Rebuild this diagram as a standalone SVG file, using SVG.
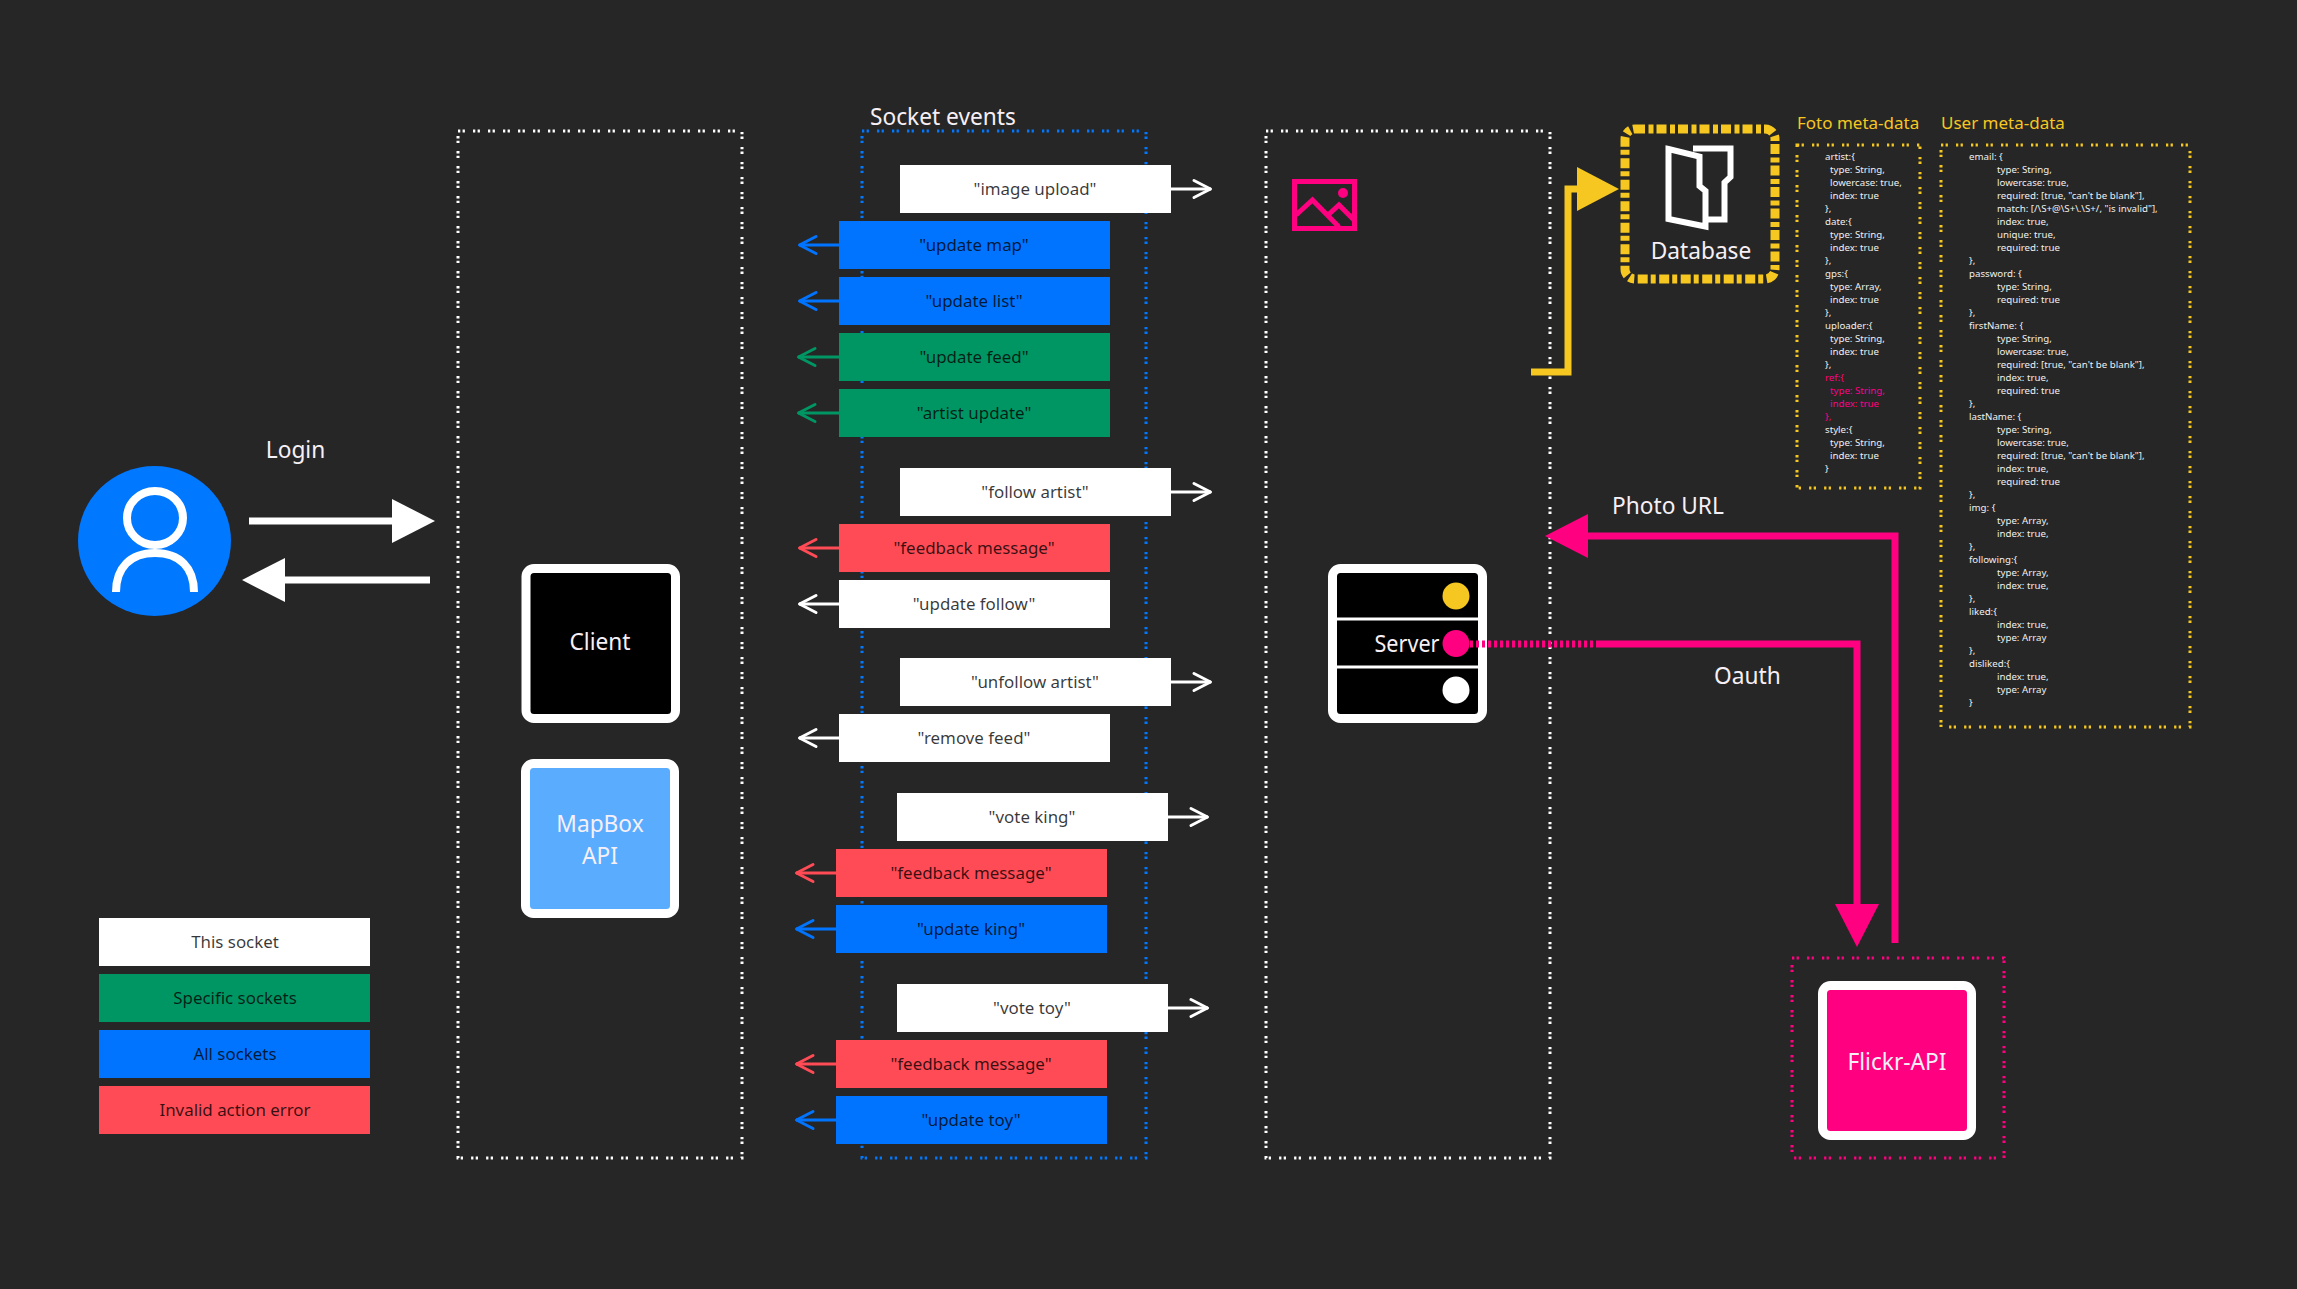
<svg xmlns="http://www.w3.org/2000/svg" width="2297" height="1289" viewBox="0 0 2297 1289">
<defs>
<style>
text{font-family:"Noto Sans","Open Sans","Liberation Sans",sans-serif}
.dots{fill:none;stroke-width:3;stroke-dasharray:2.3 2.3 2.3 8.1}
.w{fill:#fff}.b{fill:#0074ff}.g{fill:#009664}.r{fill:#ff4b55}
.lbl{font-size:16.9px;text-anchor:middle;fill:#000;fill-opacity:.78}
.t{font-size:22.7px;fill:#f6f0f6}
.m{text-anchor:middle}
.h{font-size:17px;fill:#f6c720}
.code{font-size:9.7px;fill:#f0f0f0}
.ref{fill:#ff0080}
.card{stroke:#fff;stroke-width:9}
.chev{fill:none;stroke-width:3;stroke-linecap:round;stroke-linejoin:round}
.sm{fill:none;stroke-width:3}
.big{fill:none;stroke-width:7}
</style>
<marker id="cw" markerUnits="userSpaceOnUse" markerWidth="24" markerHeight="24" refX="20" refY="12" orient="auto"><path class="chev" stroke="#fff" d="M3 3.500L19.500 12L3 20.500"/></marker>
<marker id="cb" markerUnits="userSpaceOnUse" markerWidth="24" markerHeight="24" refX="20" refY="12" orient="auto"><path class="chev" stroke="#0074ff" d="M3 3.500L19.500 12L3 20.500"/></marker>
<marker id="cg" markerUnits="userSpaceOnUse" markerWidth="24" markerHeight="24" refX="20" refY="12" orient="auto"><path class="chev" stroke="#009664" d="M3 3.500L19.500 12L3 20.500"/></marker>
<marker id="cr" markerUnits="userSpaceOnUse" markerWidth="24" markerHeight="24" refX="20" refY="12" orient="auto"><path class="chev" stroke="#ff4b55" d="M3 3.500L19.500 12L3 20.500"/></marker>
<marker id="tw" markerUnits="userSpaceOnUse" markerWidth="44" markerHeight="46" refX="0" refY="23" orient="auto"><path fill="#fff" d="M0 1L43 23L0 45Z"/></marker>
<marker id="ty" markerUnits="userSpaceOnUse" markerWidth="44" markerHeight="46" refX="0" refY="23" orient="auto"><path fill="#f6c720" d="M0 1L42 23L0 45Z"/></marker>
<marker id="tp" markerUnits="userSpaceOnUse" markerWidth="46" markerHeight="46" refX="0" refY="23" orient="auto"><path fill="#ff0080" d="M0 1L43 23L0 45Z"/></marker>
</defs>
<rect width="2297" height="1289" fill="#262626"/>

<g id="zones">
<rect id="zone-client" class="dots" stroke="#fff" x="458" y="131" width="284" height="1027"/>
<rect id="zone-sockets" class="dots" stroke="#0078ff" x="862" y="131" width="284" height="1027"/>
<rect id="zone-server" class="dots" stroke="#fff" x="1266" y="131" width="284" height="1027"/>
<rect id="zone-flickr" class="dots" stroke="#ff0080" x="1792" y="958" width="212" height="200"/>
</g>

<g id="user">
<ellipse cx="154.500" cy="541" rx="76.500" ry="75" fill="#0078ff"/>
<ellipse cx="155" cy="518" rx="28" ry="27" fill="none" stroke="#fff" stroke-width="8"/>
<path d="M116 592C116 568 130 553 155 553C180 553 194 568 194 592" fill="none" stroke="#fff" stroke-width="8"/>
</g>
<text id="login-label" class="t m" x="295.500" y="458">Login</text>

<g id="client">
<rect class="card" x="526" y="568.500" width="149.500" height="150" rx="8" fill="#000"/>
<text class="t m" x="600" y="650">Client</text>
</g>
<g id="mapbox">
<rect class="card" x="525.500" y="763.500" width="149" height="150" rx="8" fill="#5aacff"/>
<text class="t m" x="600" y="832">MapBox</text>
<text class="t m" x="600" y="864">API</text>
</g>

<text id="socket-title" class="t" x="870" y="125">Socket events</text>
<g id="ev-image-upload"><rect class="w" x="900" y="165" width="271" height="48"/><text class="lbl" x="1035" y="195">"image upload"</text></g>
<g id="ev-update-map"><rect class="b" x="839" y="221" width="271" height="48"/><text class="lbl" x="974" y="251">"update map"</text></g>
<g id="ev-update-list"><rect class="b" x="839" y="277" width="271" height="48"/><text class="lbl" x="974" y="307">"update list"</text></g>
<g id="ev-update-feed"><rect class="g" x="839" y="333" width="271" height="48"/><text class="lbl" x="974" y="363">"update feed"</text></g>
<g id="ev-artist-update"><rect class="g" x="839" y="389" width="271" height="48"/><text class="lbl" x="974" y="419">"artist update"</text></g>
<g id="ev-follow-artist"><rect class="w" x="900" y="468" width="271" height="48"/><text class="lbl" x="1035" y="498">"follow artist"</text></g>
<g id="ev-feedback-1"><rect class="r" x="839" y="524" width="271" height="48"/><text class="lbl" x="974" y="554">"feedback message"</text></g>
<g id="ev-update-follow"><rect class="w" x="839" y="580" width="271" height="48"/><text class="lbl" x="974" y="610">"update follow"</text></g>
<g id="ev-unfollow-artist"><rect class="w" x="900" y="658" width="271" height="48"/><text class="lbl" x="1035" y="688">"unfollow artist"</text></g>
<g id="ev-remove-feed"><rect class="w" x="839" y="714" width="271" height="48"/><text class="lbl" x="974" y="744">"remove feed"</text></g>
<g id="ev-vote-king"><rect class="w" x="897" y="793" width="271" height="48"/><text class="lbl" x="1032" y="823">"vote king"</text></g>
<g id="ev-feedback-2"><rect class="r" x="836" y="849" width="271" height="48"/><text class="lbl" x="971" y="879">"feedback message"</text></g>
<g id="ev-update-king"><rect class="b" x="836" y="905" width="271" height="48"/><text class="lbl" x="971" y="935">"update king"</text></g>
<g id="ev-vote-toy"><rect class="w" x="897" y="984" width="271" height="48"/><text class="lbl" x="1032" y="1014">"vote toy"</text></g>
<g id="ev-feedback-3"><rect class="r" x="836" y="1040" width="271" height="48"/><text class="lbl" x="971" y="1070">"feedback message"</text></g>
<g id="ev-update-toy"><rect class="b" x="836" y="1096" width="271" height="48"/><text class="lbl" x="971" y="1126">"update toy"</text></g>

<g id="legend">
<g id="legend-this"><rect class="w" x="99" y="918" width="271" height="48"/><text class="lbl" x="235" y="948">This socket</text></g>
<g id="legend-specific"><rect class="g" x="99" y="974" width="271" height="48"/><text class="lbl" x="235" y="1004">Specific sockets</text></g>
<g id="legend-all"><rect class="b" x="99" y="1030" width="271" height="48"/><text class="lbl" x="235" y="1060">All sockets</text></g>
<g id="legend-invalid"><rect class="r" x="99" y="1086" width="271" height="48"/><text class="lbl" x="235" y="1116">Invalid action error</text></g>
</g>

<g id="image-icon" fill="none" stroke="#ff0080" stroke-width="5">
<rect x="1294.500" y="181.500" width="60" height="47"/>
<path d="M1296 215L1312.500 200L1339 227M1328 215L1339 205L1354 220" stroke-width="5"/>
<circle cx="1343" cy="193" r="5" fill="#ff0080" stroke="none"/>
</g>

<g id="server">
<rect class="card" x="1332.500" y="568.500" width="150" height="150" rx="8" fill="#000"/>
<path d="M1337 619H1478M1337 667H1478" stroke="#fff" stroke-width="3"/>
<circle cx="1456" cy="596" r="13.500" fill="#f6c720"/>
<circle cx="1456" cy="643.500" r="13.500" fill="#ff0080"/>
<circle cx="1456" cy="690" r="13.500" fill="#fff"/>
<text class="t" x="1374.500" y="652" textLength="65" lengthAdjust="spacingAndGlyphs">Server</text>
</g>

<text id="photo-url-label" class="t" x="1612" y="514">Photo URL</text>
<text id="oauth-label" class="t" x="1714" y="684">Oauth</text>

<g id="database">
<rect x="1625" y="129" width="150" height="150" rx="10" fill="none" stroke="#f6c720" stroke-width="9" stroke-dasharray="10 3.500 5 3"/>
<g fill="none" stroke="#fff" stroke-width="6">
<path d="M1668.500 149L1699.500 156.500V186L1705.500 191V226.500L1668.500 219Z"/>
<path d="M1693 148.500H1730.500V177L1724.500 182.500V219.500H1708"/>
</g>
<text class="t m" x="1701" y="259">Database</text>
</g>

<g id="flickr">
<rect class="card" x="1822.500" y="985.500" width="149" height="150" rx="8" fill="#ff0080"/>
<text class="t m" x="1897" y="1070">Flickr-API</text>
</g>

<g id="foto-meta">
<text class="h" x="1797" y="129">Foto meta-data</text>
<rect class="dots" stroke="#f6c720" x="1797" y="145" width="123" height="343"/>
<text class="code">
<tspan x="1825" y="159.500">artist:{</tspan>
<tspan x="1830" y="172.500">type: String,</tspan>
<tspan x="1830" y="185.500">lowercase: true,</tspan>
<tspan x="1830" y="198.500">index: true</tspan>
<tspan x="1825" y="211.500">},</tspan>
<tspan x="1825" y="224.500">date:{</tspan>
<tspan x="1830" y="237.500">type: String,</tspan>
<tspan x="1830" y="250.500">index: true</tspan>
<tspan x="1825" y="263.500">},</tspan>
<tspan x="1825" y="276.500">gps:{</tspan>
<tspan x="1830" y="289.500">type: Array,</tspan>
<tspan x="1830" y="302.500">index: true</tspan>
<tspan x="1825" y="315.500">},</tspan>
<tspan x="1825" y="328.500">uploader:{</tspan>
<tspan x="1830" y="341.500">type: String,</tspan>
<tspan x="1830" y="354.500">index: true</tspan>
<tspan x="1825" y="367.500">},</tspan>
<tspan class="ref" x="1825" y="380.500">ref:{</tspan>
<tspan class="ref" x="1830" y="393.500">type: String,</tspan>
<tspan class="ref" x="1830" y="406.500">index: true</tspan>
<tspan class="ref" x="1825" y="419.500">},</tspan>
<tspan x="1825" y="432.500">style:{</tspan>
<tspan x="1830" y="445.500">type: String,</tspan>
<tspan x="1830" y="458.500">index: true</tspan>
<tspan x="1825" y="471.500">}</tspan>
</text>
</g>

<g id="user-meta">
<text class="h" x="1941" y="129">User meta-data</text>
<rect class="dots" stroke="#f6c720" x="1941" y="145" width="249" height="582"/>
<text class="code">
<tspan x="1969" y="159.500">email: {</tspan>
<tspan x="1997" y="172.500">type: String,</tspan>
<tspan x="1997" y="185.500">lowercase: true,</tspan>
<tspan x="1997" y="198.500">required: [true, "can't be blank"],</tspan>
<tspan x="1997" y="211.500">match: [/\S+@\S+\.\S+/, "is invalid"],</tspan>
<tspan x="1997" y="224.500">index: true,</tspan>
<tspan x="1997" y="237.500">unique: true,</tspan>
<tspan x="1997" y="250.500">required: true</tspan>
<tspan x="1969" y="263.500">},</tspan>
<tspan x="1969" y="276.500">password: {</tspan>
<tspan x="1997" y="289.500">type: String,</tspan>
<tspan x="1997" y="302.500">required: true</tspan>
<tspan x="1969" y="315.500">},</tspan>
<tspan x="1969" y="328.500">firstName: {</tspan>
<tspan x="1997" y="341.500">type: String,</tspan>
<tspan x="1997" y="354.500">lowercase: true,</tspan>
<tspan x="1997" y="367.500">required: [true, "can't be blank"],</tspan>
<tspan x="1997" y="380.500">index: true,</tspan>
<tspan x="1997" y="393.500">required: true</tspan>
<tspan x="1969" y="406.500">},</tspan>
<tspan x="1969" y="419.500">lastName: {</tspan>
<tspan x="1997" y="432.500">type: String,</tspan>
<tspan x="1997" y="445.500">lowercase: true,</tspan>
<tspan x="1997" y="458.500">required: [true, "can't be blank"],</tspan>
<tspan x="1997" y="471.500">index: true,</tspan>
<tspan x="1997" y="484.500">required: true</tspan>
<tspan x="1969" y="497.500">},</tspan>
<tspan x="1969" y="510.500">img: {</tspan>
<tspan x="1997" y="523.500">type: Array,</tspan>
<tspan x="1997" y="536.500">index: true,</tspan>
<tspan x="1969" y="549.500">},</tspan>
<tspan x="1969" y="562.500">following:{</tspan>
<tspan x="1997" y="575.500">type: Array,</tspan>
<tspan x="1997" y="588.500">index: true,</tspan>
<tspan x="1969" y="601.500">},</tspan>
<tspan x="1969" y="614.500">liked:{</tspan>
<tspan x="1997" y="627.500">index: true,</tspan>
<tspan x="1997" y="640.500">type: Array</tspan>
<tspan x="1969" y="653.500">},</tspan>
<tspan x="1969" y="666.500">disliked:{</tspan>
<tspan x="1997" y="679.500">index: true,</tspan>
<tspan x="1997" y="692.500">type: Array</tspan>
<tspan x="1969" y="705.500">}</tspan>
</text>
</g>

<g id="connectors">
<path class="big" stroke="#fff" marker-end="url(#tw)" d="M249 521H392"/>
<path class="big" stroke="#fff" marker-end="url(#tw)" d="M430 580H285"/>
<path class="big" stroke="#f6c720" marker-end="url(#ty)" d="M1531 372H1568V189H1577"/>
<path class="big" stroke="#ff0080" marker-end="url(#tp)" d="M1895 943V536H1588"/>
<path class="big" stroke="#ff0080" marker-end="url(#tp)" d="M1596 644H1857V904"/>
<path class="big" stroke="#ff0080" stroke-dasharray="3 3" d="M1470 644H1595"/>
<path class="sm" stroke="#fff" marker-end="url(#cw)" d="M1171 189H1211"/>
<path class="sm" stroke="#0074ff" marker-end="url(#cb)" d="M839 245H799"/>
<path class="sm" stroke="#0074ff" marker-end="url(#cb)" d="M839 301H799"/>
<path class="sm" stroke="#009664" marker-end="url(#cg)" d="M839 357H798"/>
<path class="sm" stroke="#009664" marker-end="url(#cg)" d="M839 413H798"/>
<path class="sm" stroke="#fff" marker-end="url(#cw)" d="M1171 492H1211"/>
<path class="sm" stroke="#ff4b55" marker-end="url(#cr)" d="M839 548H799"/>
<path class="sm" stroke="#fff" marker-end="url(#cw)" d="M839 604H799"/>
<path class="sm" stroke="#fff" marker-end="url(#cw)" d="M1171 682H1211"/>
<path class="sm" stroke="#fff" marker-end="url(#cw)" d="M839 738H799"/>
<path class="sm" stroke="#fff" marker-end="url(#cw)" d="M1168 817H1208"/>
<path class="sm" stroke="#ff4b55" marker-end="url(#cr)" d="M836 873H796"/>
<path class="sm" stroke="#0074ff" marker-end="url(#cb)" d="M836 929H796"/>
<path class="sm" stroke="#fff" marker-end="url(#cw)" d="M1168 1008H1208"/>
<path class="sm" stroke="#ff4b55" marker-end="url(#cr)" d="M836 1064H796"/>
<path class="sm" stroke="#0074ff" marker-end="url(#cb)" d="M836 1120H796"/>
</g>
</svg>
